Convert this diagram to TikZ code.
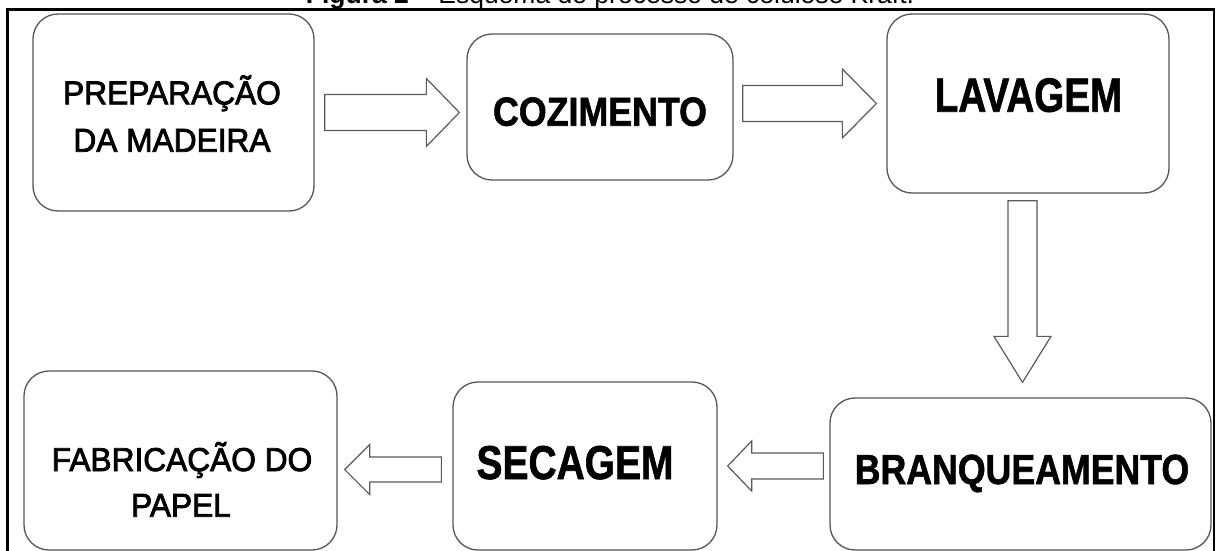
\documentclass[tikz,border=0pt]{standalone}
\usepackage{fontspec}
\usepackage{graphicx}
\setmainfont{Liberation Sans}
\newfontfamily\medfont[FakeBold=2.5]{Liberation Sans}
\newfontfamily\heavyfont[BoldFeatures={FakeBold=1.5}]{Liberation Sans}
\usetikzlibrary{calc}
\definecolor{boxgray}{RGB}{85,85,85}
\definecolor{arrowgray}{RGB}{90,90,90}
\tikzset{
  procbox/.style={draw=boxgray, line width=1.3pt, rounded corners=25pt, inner sep=0pt, fill=white},
  boxtext/.style={anchor=base, inner sep=0pt, text=black},
  blockarrow/.style n args={3}{draw=arrowgray, fill=white, line width=1.2pt, line join=miter,
    to path={
      let \p1=(\tikztostart), \p2=(\tikztotarget),
          \n1={veclen(\x2-\x1,\y2-\y1)},
          \n2={(\x2-\x1)/\n1}, \n3={(\y2-\y1)/\n1},
          \p3=({\x2-#3*\n2},{\y2-#3*\n3})
      in ({\x1-#1*\n3},{\y1+#1*\n2})
      -- ({\x3-#1*\n3},{\y3+#1*\n2})
      -- ({\x3-#2*\n3},{\y3+#2*\n2})
      -- (\p2)
      -- ({\x3+#2*\n3},{\y3-#2*\n2})
      -- ({\x3+#1*\n3},{\y3-#1*\n2})
      -- ({\x1+#1*\n3},{\y1-#1*\n2})
      -- cycle
    }}
}
\begin{document}
\begin{tikzpicture}[x=1pt,y=-1pt]
\useasboundingbox (0,0) rectangle (1219,551);
\fill[white] (0,0) rectangle (1219,551);

% title (cut off at the top)
\node[boxtext] (title) at (610,4) {\fontsize{26.5}{30}\selectfont\textbf{Figura 2} – Esquema do processo de celulose Kraft.};

% frame
\draw[line width=2.6pt, black] (7.3,9.5) rectangle (1214,570);

% boxes
\node[procbox, minimum width=281pt, minimum height=197pt] (prep) at (173.5,112.5) {};
\node[procbox, minimum width=266pt, minimum height=146pt] (coz) at (600,107) {};
\node[procbox, minimum width=282pt, minimum height=179pt] (lav) at (1028,103.5) {};
\node[procbox, minimum width=381pt, minimum height=152pt] (bran) at (1020.5,474) {};
\node[procbox, minimum width=264pt, minimum height=168pt] (sec) at (585,466) {};
\node[procbox, minimum width=313pt, minimum height=179pt] (fab) at (180.5,460.5) {};

% texts
\node[boxtext] (tprep1) at (172,104.3) {\fontsize{33}{40}\medfont\selectfont\scalebox{0.96}[1]{PREPARAÇÃO}};
\node[boxtext] (tprep2) at (172,151.7) {\fontsize{33}{40}\medfont\selectfont\scalebox{0.96}[1]{DA MADEIRA}};
\node[boxtext] (tcoz) at (600,125.7) {\fontsize{40.5}{48}\heavyfont\bfseries\selectfont\scalebox{0.883}[1]{COZIMENTO}};
\node[boxtext] (tlav) at (1028.5,111.7) {\fontsize{48}{56}\heavyfont\bfseries\selectfont\scalebox{0.805}[1]{LAVAGEM}};
\node[boxtext] (tbran) at (1022,484) {\fontsize{42}{50}\heavyfont\bfseries\selectfont\scalebox{0.85}[1]{BRANQUEAMENTO}};
\node[boxtext] (tsec) at (575,479) {\fontsize{47.5}{56}\heavyfont\bfseries\selectfont\scalebox{0.82}[1]{SECAGEM}};
\node[boxtext] (tfab1) at (182,471) {\fontsize{33}{40}\medfont\selectfont\scalebox{0.96}[1]{FABRICAÇÃO DO}};
\node[boxtext] (tfab2) at (181,516.7) {\fontsize{33}{40}\medfont\selectfont\scalebox{0.96}[1]{PAPEL}};

% block arrows
\coordinate (a1s) at ($(prep.east)+(10,0)$);
\coordinate (a1e) at ($(coz.west |- a1s)+(-7,0)$);
\draw[blockarrow={18}{34}{33}] (a1s) to (a1e);

\coordinate (a2e) at ($(lav.west)+(-10,0)$);
\coordinate (a2s) at ($(coz.east |- a2e)+(9,0)$);
\draw[blockarrow={18}{34.5}{34}] (a2s) to (a2e);

\coordinate (a3e) at ($(bran.north)+(2,-15)$);
\coordinate (a3s) at ($(lav.south -| a3e)+(0,7)$);
\draw[blockarrow={14.5}{28.5}{46}] (a3s) to (a3e);

\coordinate (a4e) at ($(sec.east)+(10,0)$);
\coordinate (a4s) at ($(bran.west |- a4e)+(-6,0)$);
\draw[blockarrow={13}{25}{24}] (a4s) to (a4e);

\coordinate (a5s) at ($(sec.west)+(-11,3.5)$);
\coordinate (a5e) at ($(fab.east |- a5s)+(7,0)$);
\draw[blockarrow={12.5}{25}{25}] (a5s) to (a5e);
\end{tikzpicture}
\end{document}
